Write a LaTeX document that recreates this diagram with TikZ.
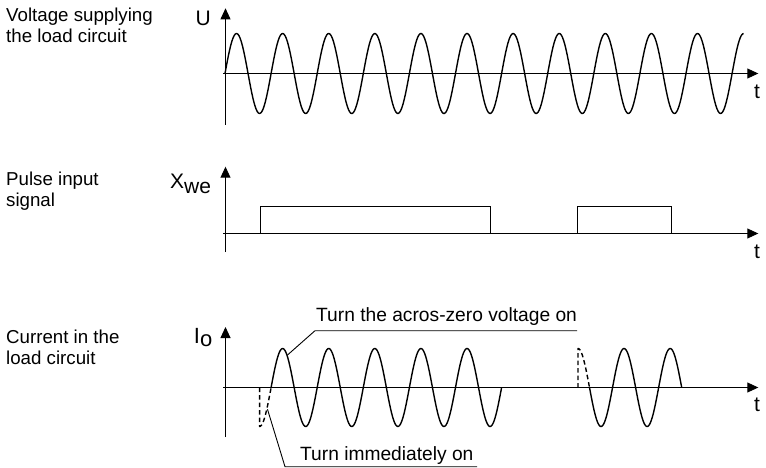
\documentclass[tikz,border=0pt]{standalone}
\usepackage{fontspec}
\setmainfont{Liberation Sans}
\usetikzlibrary{arrows.meta}

\begin{document}
\begin{tikzpicture}[x=1pt,y=-1pt,
axis/.style =
  {line width=0.9pt,
   -{Triangle[length=11pt,width=10pt]}},
wave/.style =
  {line width=1.4pt, line join=round},
jump/.style =
  {wave, dash pattern=on 4.5pt off 3pt},
pulse/.style = {line width=0.9pt},
leader/.style = {line width=0.9pt},
caption/.style =
  {anchor=base west, inner sep=0pt, align=left,
   font=\fontsize{18.7}{21}\selectfont},
note/.style =
  {anchor=base west, inner sep=0pt,
   font=\fontsize{19.2}{21}\selectfont},
axislabel/.style =
  {anchor=base west, inner sep=0pt,
   font=\fontsize{21}{22}\selectfont}
]
\useasboundingbox (0,0) rectangle (766,468);
%Captions (anchored on their last line)
\node[caption] (volt-cap) at (6,42.7) {Voltage supplying\\the load circuit};
\node[caption] (pulse-cap) at (6,206.7) {Pulse input\\signal};
\node[caption] (curr-cap) at (6,364.3) {Current in the\\load circuit};
%Supply voltage
\draw[axis] (225.5,125) -- (225.5,8.3);
\draw[axis] (223,73.5) -- (758.3,73.5);
\node[axislabel] (u-label) at (195.5,25.5) {U};
\node[axislabel] (t-top) at (754,98.3) {t};
\draw[wave] plot[domain=225:743.6,samples=450] (\x,{73.5-40*sin((\x-225)/46.1*360)});
%Pulse input
\draw[axis] (225.5,252) -- (225.5,166.7);
\draw[axis] (223,233.5) -- (758.3,233.5);
\node[axislabel] (x-label) at (170,188.3) {X\raisebox{-5pt}{we}};
\node[axislabel] (t-mid) at (754,258) {t};
\draw[pulse] (260.5,233.5) |- (490,206) -- (490,233.5);
\draw[pulse] (577.7,233.5) |- (671,206) -- (671,233.5);
%Load current
\draw[axis] (225.5,437) -- (225.5,327);
\draw[axis] (223,387.5) -- (758.3,387.5);
\node[axislabel,font=\fontsize{22}{22}\selectfont] (i-label) at (193.7,343.3) {I\raisebox{-3.5pt}{o}};
\node[axislabel] (t-bot) at (754,411.7) {t};
\draw[jump] (259.6,387.5) -- plot[domain=259.6:271.1,samples=30] (\x,{387.5-39*sin((\x-225)/46.1*360)});
\draw[wave] plot[domain=271.1:501.6,samples=250] (\x,{387.5-39*sin((\x-225)/46.1*360)});
\draw[jump] (578,387.5) -- plot[domain=578:589.5,samples=30] (\x,{387.5-39*sin((\x-566.45)/46.1*360)});
\draw[wave] plot[domain=589.5:681.7,samples=120] (\x,{387.5-39*sin((\x-566.45)/46.1*360)});
%Notes
\node[note] (zero-note) at (316,321.7) {Turn the acros-zero voltage on};
\coordinate (zero-tip) at (287.5,355);
\coordinate (zero-knee) at (315,330.7);
\draw[leader] (zero-tip) -- (zero-knee) -- (zero-knee -| zero-note.east);
\node[note] (imm-note) at (300,460.7) {Turn immediately on};
\coordinate (imm-tip) at (267.5,409.3);
\coordinate (imm-knee) at (285,466.7);
\draw[leader] (imm-tip) -- (imm-knee) -- ([xshift=3.5pt]imm-knee -| imm-note.east);
\end{tikzpicture}
\end{document}
